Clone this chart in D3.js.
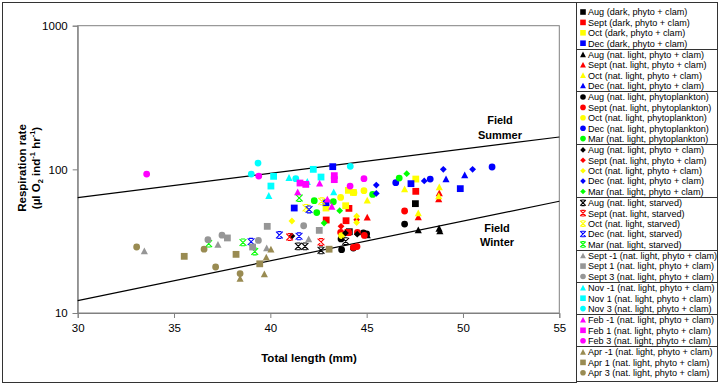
<!DOCTYPE html>
<html><head><meta charset="utf-8">
<script src="https://cdn.jsdelivr.net/npm/d3@7"></script>
<style>
body{margin:0;background:#fff;}
svg{display:block;font-family:"Liberation Sans",Arial,sans-serif;}
</style>
</head><body>
<svg id="c" width="720" height="386"></svg>
<script>
// ---------- data ----------
const xTicks = [30, 35, 40, 45, 50, 55];
const yTicks = [10, 100, 1000];
const summerLine = [[30, 63.5], [55, 168]];
const winterLine = [[30, 12.2], [55, 60]];

const augDark   = [[47.53,57.7],[44.1,36.8]];
const septDark  = [[47.55,70.3],[42.9,44.4],[43.93,43.9],[44.08,53.5],[44.03,36.4]];
const octDark   = [[47.55,85.6],[42.89,53.8],[44.05,71.4],[44.31,69.1],[43.91,55.8]];
const decDark   = [[43.24,104.4],[42.89,58.6],[41.24,53.8],[47.3,79.5],[49.86,73.4]];
const augNL     = [[47.68,37.8],[45.03,34.9],[48.76,38.8],[48.8,37.2]];
const septNL    = [[47.68,46.6],[45.03,46.3],[48.77,68.4],[48.74,62.1]];
const octNL     = [[46.97,72.9],[47.68,49.6],[45.03,60.9],[48.77,75.3],[48.74,65.2]];
const decNL     = [[50.09,91.3],[49.12,85.6]];
const augPhyto  = [[46.97,41.6],[43.67,32.8],[43.7,27.6],[44.31,28.3],[44.83,36.1],[45.0,35.6]];
const septPhyto = [[46.97,51.3],[43.65,36.4],[44.07,36.3],[44.52,36.4],[44.88,34.7],[44.31,28.6],[44.5,29.0]];
const octPhyto  = [[43.65,63.8],[44.86,71.1],[44.34,68.8],[43.7,34.6]];
const decPhyto  = [[51.51,103.8],[46.51,80.8],[48.3,85.6]];
const marPhyto  = [[45.31,66.9],[46.69,87.0],[42.28,60.5],[43.27,59.5],[42.41,50.0]];
const augPC     = [[41.12,34.3],[44.51,35.4],[43.9,36.0]];
const septPC    = [[43.67,40.1],[44.48,44.6]];
const octPC     = [[41.12,43.7],[44.48,47.2],[44.48,42.6]];
const decPC     = [[45.5,77.7],[45.5,68.0],[47.99,83.0],[48.98,100],[50.5,100]];
const marPC     = [[47.08,93.3],[43.6,51.6],[42.79,42.3]];
const augStarv  = [[41.45,29.1],[41.8,29.1],[42.63,27.3],[43.91,31.6]];
const septStarv = [[41.0,33.8],[42.63,31.2]];
const octStarv  = [[42.67,59.9],[41.85,53.9]];
const decStarv  = [[39.0,31.3],[40.47,34.9],[42.01,52.6],[41.49,34.2]];
const marStarv  = [[36.8,30.4],[38.58,31.0],[39.19,26.8],[41.5,63.2]];
const septM1    = [[37.28,30.0],[39.81,28.3],[33.46,27.0],[41.99,32.7]];
const sept1     = [[39.84,40.1],[37.77,33.3],[39.08,28.8],[42.54,37.6]];
const sept3     = [[37.49,34.8],[36.76,32.4],[39.38,32.0],[41.73,40.5]];
const novM1     = [[39.92,65.6],[40.97,87.5],[41.92,82.1],[43.29,69.5]];
const nov1      = [[40.17,89.4],[40.03,76.5],[42.23,100],[42.63,88.4]];
const nov3      = [[39.36,110.6],[39.01,92.7],[41.32,86.1],[44.15,104.9]];
const febM1     = [[42.56,79.9],[41.42,69.5],[42.96,61.8],[43.19,55.2]];
const feb1      = [[43.32,90.4],[43.32,84.8],[41.54,80.3],[41.84,78.6]];
const feb3      = [[33.58,92.7],[39.4,89.8],[44.14,76.5],[44.86,86.1]];
const aprM1     = [[40.03,27.8],[39.79,24.4],[38.43,17.4],[39.69,18.7]];
const apr1      = [[35.53,24.8],[38.22,25.6],[39.45,22.0],[43.05,27.8]];
const apr3      = [[33.06,28.8],[36.56,27.8],[37.16,20.9],[38.43,18.8]];

const seriesNames = [
  "Aug (dark, phyto + clam)","Sept (dark, phyto + clam)","Oct (dark, phyto + clam)","Dec (dark, phyto + clam)",
  "Aug (nat. light, phyto + clam)","Sept (nat. light, phyto + clam)","Oct (nat. light, phyto + clam)","Dec (nat. light, phyto + clam)",
  "Aug (nat. light, phytoplankton)","Sept (nat. light, phytoplankton)","Oct (nat. light, phytoplankton)","Dec (nat. light, phytoplankton)","Mar (nat. light, phytoplankton)",
  "Aug (nat. light, phyto + clam)","Sept (nat. light, phyto + clam)","Oct (nat. light, phyto + clam)","Dec (nat. light, phyto + clam)","Mar (nat. light, phyto + clam)",
  "Aug (nat. light, starved)","Sept (nat. light, starved)","Oct (nat. light, starved)","Dec (nat. light, starved)","Mar (nat. light, starved)",
  "Sept -1 (nat. light, phyto + clam)","Sept 1 (nat. light, phyto + clam)","Sept 3 (nat. light, phyto + clam)",
  "Nov -1 (nat. light, phyto + clam)","Nov 1 (nat. light, phyto + clam)","Nov 3 (nat. light, phyto + clam)",
  "Feb -1 (nat. light, phyto + clam)","Feb 1 (nat. light, phyto + clam)","Feb 3 (nat. light, phyto + clam)",
  "Apr -1 (nat. light, phyto + clam)","Apr 1 (nat. light, phyto + clam)","Apr 3 (nat. light, phyto + clam)"
];
const seriesData = [augDark,septDark,octDark,decDark,augNL,septNL,octNL,decNL,
  augPhyto,septPhyto,octPhyto,decPhyto,marPhyto,augPC,septPC,octPC,decPC,marPC,
  augStarv,septStarv,octStarv,decStarv,marStarv,septM1,sept1,sept3,novM1,nov1,nov3,
  febM1,feb1,feb3,aprM1,apr1,apr3];
const groupSizes = [4,4,5,5,5,3,3,3,3];

// ---------- styles ----------
const C = {k:"#000000", r:"#ff0000", y:"#ffff00", b:"#0000ff", g:"#00ff00",
           gr:"#969696", c:"#00ffff", m:"#ff00ff", o:"#998b52"};
const seriesShapes = ["sq","sq","sq","sq","tri","tri","tri","tri",
  "cir","cir","cir","cir","cir","dia","dia","dia","dia","dia",
  "x","x","x","x","x","tri","sq","cir","tri","sq","cir","tri","sq","cir","tri","sq","cir"];
const seriesColors = [C.k,C.r,C.y,C.b,C.k,C.r,C.y,C.b,C.k,C.r,C.y,C.b,C.g,
  C.k,C.r,C.y,C.b,C.g,C.k,C.r,C.y,C.b,C.g,C.gr,C.gr,C.gr,C.c,C.c,C.c,C.m,C.m,C.m,C.o,C.o,C.o];

function shapePath(s, r){
  switch(s){
    case "sq": return `M${-r},${-r}H${r}V${r}H${-r}Z`;
    case "tri": return `M0,${-r*1.05}L${r*1.05},${r*0.95}L${-r*1.05},${r*0.95}Z`;
    case "dia": return `M0,${-r}L${r},0L0,${r}L${-r},0Z`;
    case "cir": return `M${r},0A${r},${r} 0 1,1 ${-r},0A${r},${r} 0 1,1 ${r},0Z`;
    case "x": return `M${-r},${-r}L${r},${r}M${r},${-r}L${-r},${r}M${-r*0.6},${-r}H${r*0.6}M${-r*0.6},${r}H${r*0.6}`;
  }
}
function drawMarker(g, s, color, r){
  const p = g.append("path").attr("d", shapePath(s, r));
  if (s === "x") p.attr("fill","none").attr("stroke",color).attr("stroke-width",1.1);
  else p.attr("fill",color);
  return p;
}

// ---------- chart ----------
const svg = d3.select("#c");
const L = 77.7, R = 559.3, T = 25.7, B = 313;
const x = d3.scaleLinear().domain([30,55]).range([L,R]);
const y = d3.scaleLog().domain([10,1000]).range([B,T]);

// outer border
svg.append("rect").attr("x",2.5).attr("y",2.5).attr("width",574).attr("height",380)
  .attr("fill","none").attr("stroke","#333").attr("stroke-width",1);

// plot border
svg.append("rect").attr("x",L).attr("y",T).attr("width",R-L).attr("height",B-T)
  .attr("fill","none").attr("stroke","#808080").attr("stroke-width",1);

const ax = svg.append("g").attr("transform",`translate(0,${B})`)
  .call(d3.axisBottom(x).tickValues(xTicks).tickSize(5).tickPadding(6).tickFormat(d3.format("d")));
const ay = svg.append("g").attr("transform",`translate(${L},0)`)
  .call(d3.axisLeft(y).tickValues(yTicks).tickSize(5).tickPadding(5).tickFormat(d3.format("d")));
[ax, ay].forEach(a => {
  a.select(".domain").attr("stroke","#808080");
  a.selectAll(".tick line").attr("stroke","#808080");
  a.selectAll(".tick text").attr("font-size","11.5px").attr("fill","#000")
    .attr("font-family",'"Liberation Sans",Arial,sans-serif');
});

// axis titles
svg.append("text").attr("x",309).attr("y",362).attr("text-anchor","middle")
  .attr("font-size","11.5px").attr("font-weight","bold").text("Total length (mm)");
const yt = svg.append("g").attr("transform","translate(0,168)");
yt.append("text").attr("transform","translate(26,0) rotate(-90)").attr("text-anchor","middle")
  .attr("font-size","11.5px").attr("font-weight","bold").text("Respiration rate");
const t2 = yt.append("text").attr("transform","translate(39.5,0) rotate(-90)").attr("text-anchor","middle")
  .attr("font-size","11.5px").attr("font-weight","bold");
t2.append("tspan").text("(µl O");
t2.append("tspan").attr("font-size","7.5px").attr("dy",3).text("2");
t2.append("tspan").attr("dy",-3).text(" ind");
t2.append("tspan").attr("font-size","7.5px").attr("dy",-4.5).text("-1");
t2.append("tspan").attr("dy",4.5).text(" hr");
t2.append("tspan").attr("font-size","7.5px").attr("dy",-4.5).text("-1");
t2.append("tspan").attr("dy",4.5).text(")");

// field lines
const line = d3.line().x(d=>x(d[0])).y(d=>y(d[1]));
[summerLine, winterLine].forEach(d => svg.append("path").attr("d", line(d))
  .attr("fill","none").attr("stroke","#000").attr("stroke-width",1.2));

const lab = (t, cx, cy) => svg.append("text").attr("x",cx).attr("y",cy).attr("text-anchor","middle")
  .attr("font-size","11px").attr("font-weight","bold").text(t);
lab("Field",500,124); lab("Summer",500,139);
lab("Field",497,232); lab("Winter",497,246);

// points
const pts = svg.append("g");
seriesData.forEach((data, i) => {
  data.forEach(d => {
    const g = pts.append("g").attr("transform",`translate(${x(d[0])},${y(d[1])})`);
    drawMarker(g, seriesShapes[i], seriesColors[i], 3.4);
  });
});

// ---------- legend ----------
const LX0 = 576.5, LX1 = 717.5;
const lg = svg.append("g");
lg.append("rect").attr("x",LX0).attr("y",2.5).attr("width",LX1-LX0).attr("height",379)
  .attr("fill","#fff").attr("stroke","#333").attr("stroke-width",1);
let idx = 0;
const ys = [];
groupSizes.forEach((n, gi) => {
  for (let k = 0; k < n; k++) { ys.push({y: 12 + idx*10.4 + gi*0.9, g: gi}); idx++; }
});
let cum = 0;
groupSizes.forEach((n, gi) => {
  cum += n;
  if (gi < groupSizes.length - 1) {
    const sy = Math.round((ys[cum-1].y + ys[cum].y)/2) + 0.5;
    lg.append("line").attr("x1",LX0).attr("x2",LX1).attr("y1",sy).attr("y2",sy)
      .attr("stroke","#333").attr("stroke-width",1);
  }
});
seriesNames.forEach((nm, i) => {
  const cy = ys[i].y;
  const g = lg.append("g").attr("transform",`translate(583,${cy})`);
  drawMarker(g, seriesShapes[i], seriesColors[i], 2.8);
  lg.append("text").attr("x",588).attr("y",cy+3.3).attr("font-size","9.1px").attr("fill","#000").text(nm);
});
</script>
</body></html>
